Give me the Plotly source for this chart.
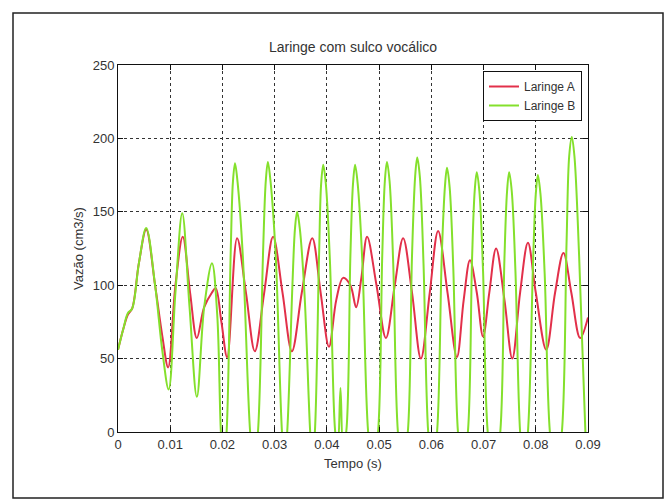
import plotly.graph_objects as go

title_text = "Laringe com sulco vocálico"
x_label = "Tempo (s)"
y_label = "Vazão (cm3/s)"
series_names = ["Laringe A", "Laringe B"]

x_ticks = [0, 0.01, 0.02, 0.03, 0.04, 0.05, 0.06, 0.07, 0.08, 0.09]
x_tick_labels = ["0", "0.01", "0.02", "0.03", "0.04", "0.05", "0.06", "0.07", "0.08", "0.09"]
y_ticks = [0, 50, 100, 150, 200, 250]

# Laringe A (red)
t_a = [0.0000, 0.0010, 0.0019, 0.0027, 0.0040, 0.0054, 0.0071, 0.0085, 0.0096,
       0.0110, 0.0124, 0.0138, 0.0151, 0.0165, 0.0180, 0.0187, 0.0198, 0.0209,
       0.0228, 0.0245, 0.0262, 0.0280, 0.0297, 0.0315, 0.0333, 0.0352, 0.0372,
       0.0388, 0.0404, 0.0418, 0.0431, 0.0445, 0.0456, 0.0466, 0.0477, 0.0495,
       0.0513, 0.0530, 0.0546, 0.0563, 0.0580, 0.0597, 0.0613, 0.0631, 0.0649,
       0.0662, 0.0674, 0.0687, 0.0699, 0.0711, 0.0724, 0.0740, 0.0755, 0.0770,
       0.0785, 0.0800, 0.0820, 0.0837, 0.0853, 0.0868, 0.0885, 0.0900]
v_a = [56, 70, 80, 84, 115, 138, 100, 65, 44,
       100, 133, 95, 64, 85, 95, 98, 75, 51,
       132, 95, 55, 95, 133, 95, 55, 95, 132,
       95, 58, 90, 105, 100, 85, 105, 133, 100,
       64, 100, 132, 95, 50, 95, 137, 95, 51,
       90, 117, 95, 65, 95, 125, 90, 50, 95,
       129, 95, 56, 95, 122, 95, 64, 78]

# Laringe B (green)
t_b = [0.0000, 0.0010, 0.0019, 0.0027, 0.0040, 0.0054, 0.0071, 0.0085, 0.0097,
       0.0110, 0.0123, 0.0137, 0.0151, 0.0165, 0.0180, 0.0190,
       0.0197, 0.0202, 0.0208, 0.0216, 0.0220, 0.0224, 0.0229, 0.0239, 0.0253,
       0.0260, 0.0268, 0.0278, 0.0283, 0.0287, 0.0292, 0.0302, 0.0314,
       0.0319, 0.0324, 0.0334, 0.0339, 0.0343, 0.0348, 0.0357, 0.0368,
       0.0372, 0.0377, 0.0385, 0.0389, 0.0393, 0.0398, 0.0406, 0.0416,
       0.0421, 0.0426, 0.0431, 0.0437,
       0.0445, 0.0450, 0.0454, 0.0459, 0.0468, 0.0479,
       0.0488, 0.0498, 0.0506, 0.0511, 0.0515, 0.0520, 0.0527, 0.0536,
       0.0545, 0.0555, 0.0563, 0.0569, 0.0573, 0.0578, 0.0585, 0.0594,
       0.0602, 0.0611, 0.0620, 0.0626, 0.0630, 0.0635, 0.0642, 0.0651,
       0.0660, 0.0670, 0.0678, 0.0683, 0.0687, 0.0692, 0.0699, 0.0708,
       0.0720, 0.0732, 0.0740, 0.0745, 0.0749, 0.0754, 0.0761, 0.0770,
       0.0777, 0.0785, 0.0795, 0.0800, 0.0804, 0.0809, 0.0817, 0.0827,
       0.0838, 0.0850, 0.0859, 0.0864, 0.0869, 0.0874, 0.0883, 0.0895, 0.0900]
v_b = [56, 70, 81, 84, 115, 139, 100, 55, 29,
       95, 149, 85, 24, 85, 115, 80,
       0, -25, 0, 125, 170, 183, 170, 120, 0,
       -25, 0, 125, 171, 184, 171, 120, 0,
       -20, 0, 100, 139, 150, 139, 95, 0,
       -20, 0, 120, 169, 182, 169, 115, 0,
       -10, 30, -10, 0,
       120, 169, 182, 169, 115, 0,
       -25, 0, 120, 171, 184, 171, 115, 0,
       -25, 0, 120, 174, 187, 174, 115, 0,
       -25, 0, 120, 167, 180, 167, 112, 0,
       -25, 0, 118, 164, 177, 164, 110, 0,
       -30, 0, 118, 164, 177, 164, 110, 0,
       -25, 0, 118, 162, 175, 162, 108, 0,
       -30, 0, 130, 188, 201, 188, 120, 0, -30]

red = "#e2304a"
green = "#84e02c"
font_family = "Liberation Sans, Arial, sans-serif"
text_color = "#333333"

fig = go.Figure()
fig.add_trace(go.Scatter(x=t_a, y=v_a, mode="lines", name=series_names[0],
                         line=dict(color=red, width=2, shape="spline", smoothing=1.0)))
fig.add_trace(go.Scatter(x=t_b, y=v_b, mode="lines", name=series_names[1],
                         line=dict(color=green, width=2, shape="spline", smoothing=1.0)))

W, H = 671, 500
L, R, T, B = 118, 83, 65, 68
pw, ph = W - L - R, H - T - B

def px_to_paper_x(px):
    return (px - L) / pw

def px_to_paper_y(py):
    return (H - B - py) / ph

axis_common = dict(
    showline=True, linecolor="#111111", linewidth=1, mirror="ticks",
    ticks="inside", ticklen=5, tickcolor="#111111", tickwidth=1,
    showgrid=True, gridcolor="#333333", gridwidth=1, griddash="dot",
    zeroline=False,
    tickfont=dict(family=font_family, size=13, color=text_color),
)

fig.update_layout(
    width=W, height=H,
    margin=dict(l=L, r=R, t=T, b=B),
    paper_bgcolor="white", plot_bgcolor="white",
    title=dict(text=title_text, x=353 / W, xanchor="center",
               y=1 - 47 / H, yanchor="middle",
               font=dict(family=font_family, size=14, color=text_color)),
    xaxis=dict(range=[0, 0.09], tickvals=x_ticks, ticktext=x_tick_labels,
               title=dict(text=x_label, standoff=8,
                          font=dict(family=font_family, size=13, color=text_color)),
               **axis_common),
    yaxis=dict(range=[0, 250], tickvals=y_ticks,
               title=dict(text=y_label, standoff=6,
                          font=dict(family=font_family, size=13, color=text_color)),
               **axis_common),
    legend=dict(x=px_to_paper_x(582), xanchor="right", y=px_to_paper_y(71), yanchor="top",
                bgcolor="white", bordercolor="#111111", borderwidth=1,
                font=dict(family=font_family, size=12, color=text_color),
                tracegroupgap=0),
    showlegend=True,
)

# outer frame around the whole figure
fig.add_shape(type="rect", xref="paper", yref="paper",
              x0=px_to_paper_x(13), x1=px_to_paper_x(663),
              y0=px_to_paper_y(498), y1=px_to_paper_y(13),
              line=dict(color="#222222", width=1.5), fillcolor="rgba(0,0,0,0)",
              layer="below")

fig.write_html("out.html", config={"displayModeBar": False},
               post_script="document.body.style.margin='0';")
